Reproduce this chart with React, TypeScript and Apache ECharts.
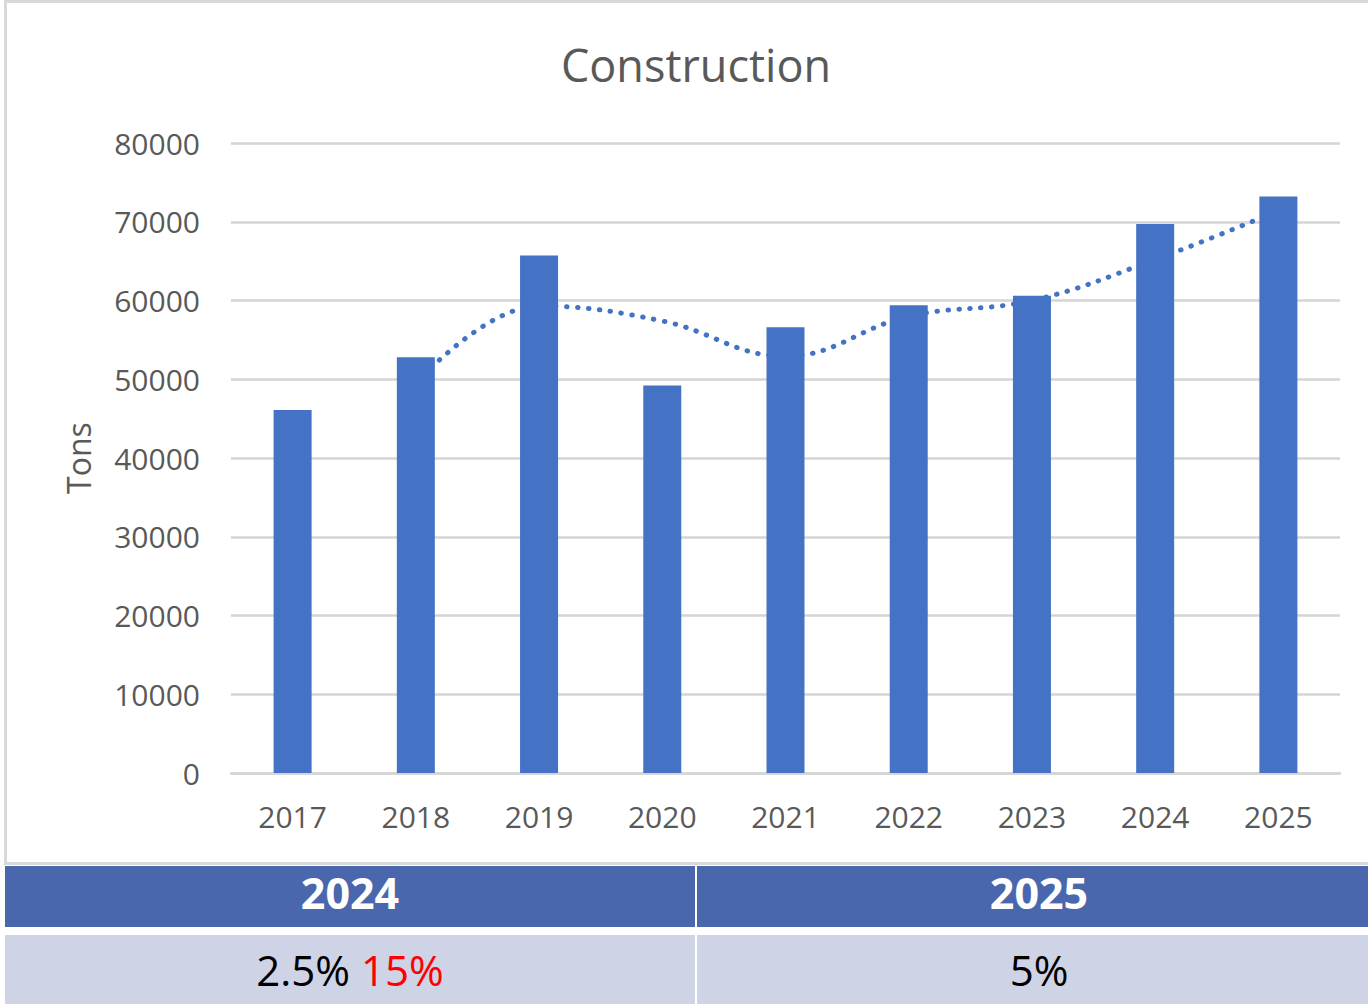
import React, { useEffect, useRef } from "react";
import * as echarts from "echarts";

const years = ["2017", "2018", "2019", "2020", "2021", "2022", "2023", "2024", "2025"];
const tons = [46100, 52800, 65700, 49200, 56600, 59400, 60600, 69700, 73200];
const trend = [null, 49500, 59300, 57400, 52900, 58000, 60000, 65200, 71400];
const tableHeaders = ["2024", "2025"];
const tableLeftBlack = "2.5%";
const tableLeftRed = "15%";
const tableRight = "5%";

const FONT = "'Open Sans', 'Noto Sans', sans-serif";
const GREY = "#595959";
const BLUE = "#4472c4";

export default function App() {
  const ref = useRef<HTMLDivElement>(null);
  useEffect(() => {
    if (!ref.current) return;
    const chart = echarts.init(ref.current, null, { renderer: "svg" });
    chart.setOption({
      animation: false,
      backgroundColor: "#ffffff",
      grid: { left: 231, right: 28, top: 143, bottom: 231, containLabel: false },
      xAxis: {
        type: "category",
        data: years,
        axisLine: { show: true, lineStyle: { color: "#d5d5d5", width: 2.5 } },
        axisTick: { show: false },
        axisLabel: { color: GREY, fontSize: 30, fontFamily: FONT, margin: 28 },
      },
      yAxis: {
        type: "value",
        min: 0,
        max: 80000,
        interval: 10000,
        axisLine: { show: false },
        axisTick: { show: false },
        splitLine: { lineStyle: { color: "#d5d5d5", width: 2.5 } },
        axisLabel: {
          color: GREY,
          fontSize: 30,
          fontFamily: FONT,
          margin: 31,
          formatter: (v: number) => String(v),
        },
      },
      series: [
        {
          type: "line",
          data: trend,
          smooth: 0.4,
          showSymbol: false,
          symbol: "none",
          z: 1,
          lineStyle: { color: BLUE, width: 5, type: [0.5, 10.5], cap: "round" },
        },
        {
          type: "bar",
          data: tons,
          barWidth: 38,
          z: 2,
          itemStyle: { color: BLUE },
        },
      ],
      graphic: [
        {
          type: "rect",
          shape: { x: 5.5, y: 1.5, width: 1400, height: 862 },
          style: { fill: "none", stroke: "#d9d9d9", lineWidth: 3 },
          silent: true,
        },
        {
          type: "text",
          x: 696,
          y: 64,
          style: {
            text: "Construction",
            fill: GREY,
            font: `45px ${FONT}`,
            textAlign: "center",
            textVerticalAlign: "middle",
          },
        },
        {
          type: "text",
          x: 78,
          y: 458,
          rotation: Math.PI / 2,
          style: {
            text: "Tons",
            fill: GREY,
            font: `32px ${FONT}`,
            textAlign: "center",
            textVerticalAlign: "middle",
          },
        },
        { type: "rect", shape: { x: 5, y: 866, width: 690, height: 61 }, style: { fill: "#4a67ae" } },
        { type: "rect", shape: { x: 697, y: 866, width: 671, height: 61 }, style: { fill: "#4a67ae" } },
        { type: "rect", shape: { x: 5, y: 935, width: 690, height: 69 }, style: { fill: "#cfd3e6" } },
        { type: "rect", shape: { x: 697, y: 935, width: 671, height: 69 }, style: { fill: "#cfd3e6" } },
        {
          type: "text",
          x: 350,
          y: 892,
          style: {
            text: tableHeaders[0],
            fill: "#ffffff",
            font: `bold 43px ${FONT}`,
            textAlign: "center",
            textVerticalAlign: "middle",
          },
        },
        {
          type: "text",
          x: 1039,
          y: 892,
          style: {
            text: tableHeaders[1],
            fill: "#ffffff",
            font: `bold 43px ${FONT}`,
            textAlign: "center",
            textVerticalAlign: "middle",
          },
        },
        {
          type: "text",
          x: 350,
          y: 969,
          style: {
            text: `{k|${tableLeftBlack}} {r|${tableLeftRed}}`,
            textAlign: "center",
            textVerticalAlign: "middle",
            rich: {
              k: { fill: "#000000", fontSize: 42, fontFamily: FONT },
              r: { fill: "#ff0000", fontSize: 42, fontFamily: FONT },
            },
            font: `42px ${FONT}`,
          },
        },
        {
          type: "text",
          x: 1039,
          y: 969,
          style: {
            text: tableRight,
            fill: "#000000",
            font: `42px ${FONT}`,
            textAlign: "center",
            textVerticalAlign: "middle",
          },
        },
      ],
    });
    return () => chart.dispose();
  }, []);
  return (
    <div
      ref={ref}
      style={{ position: "fixed", left: 0, top: 0, width: 1368, height: 1004, background: "#fff" }}
    />
  );
}
